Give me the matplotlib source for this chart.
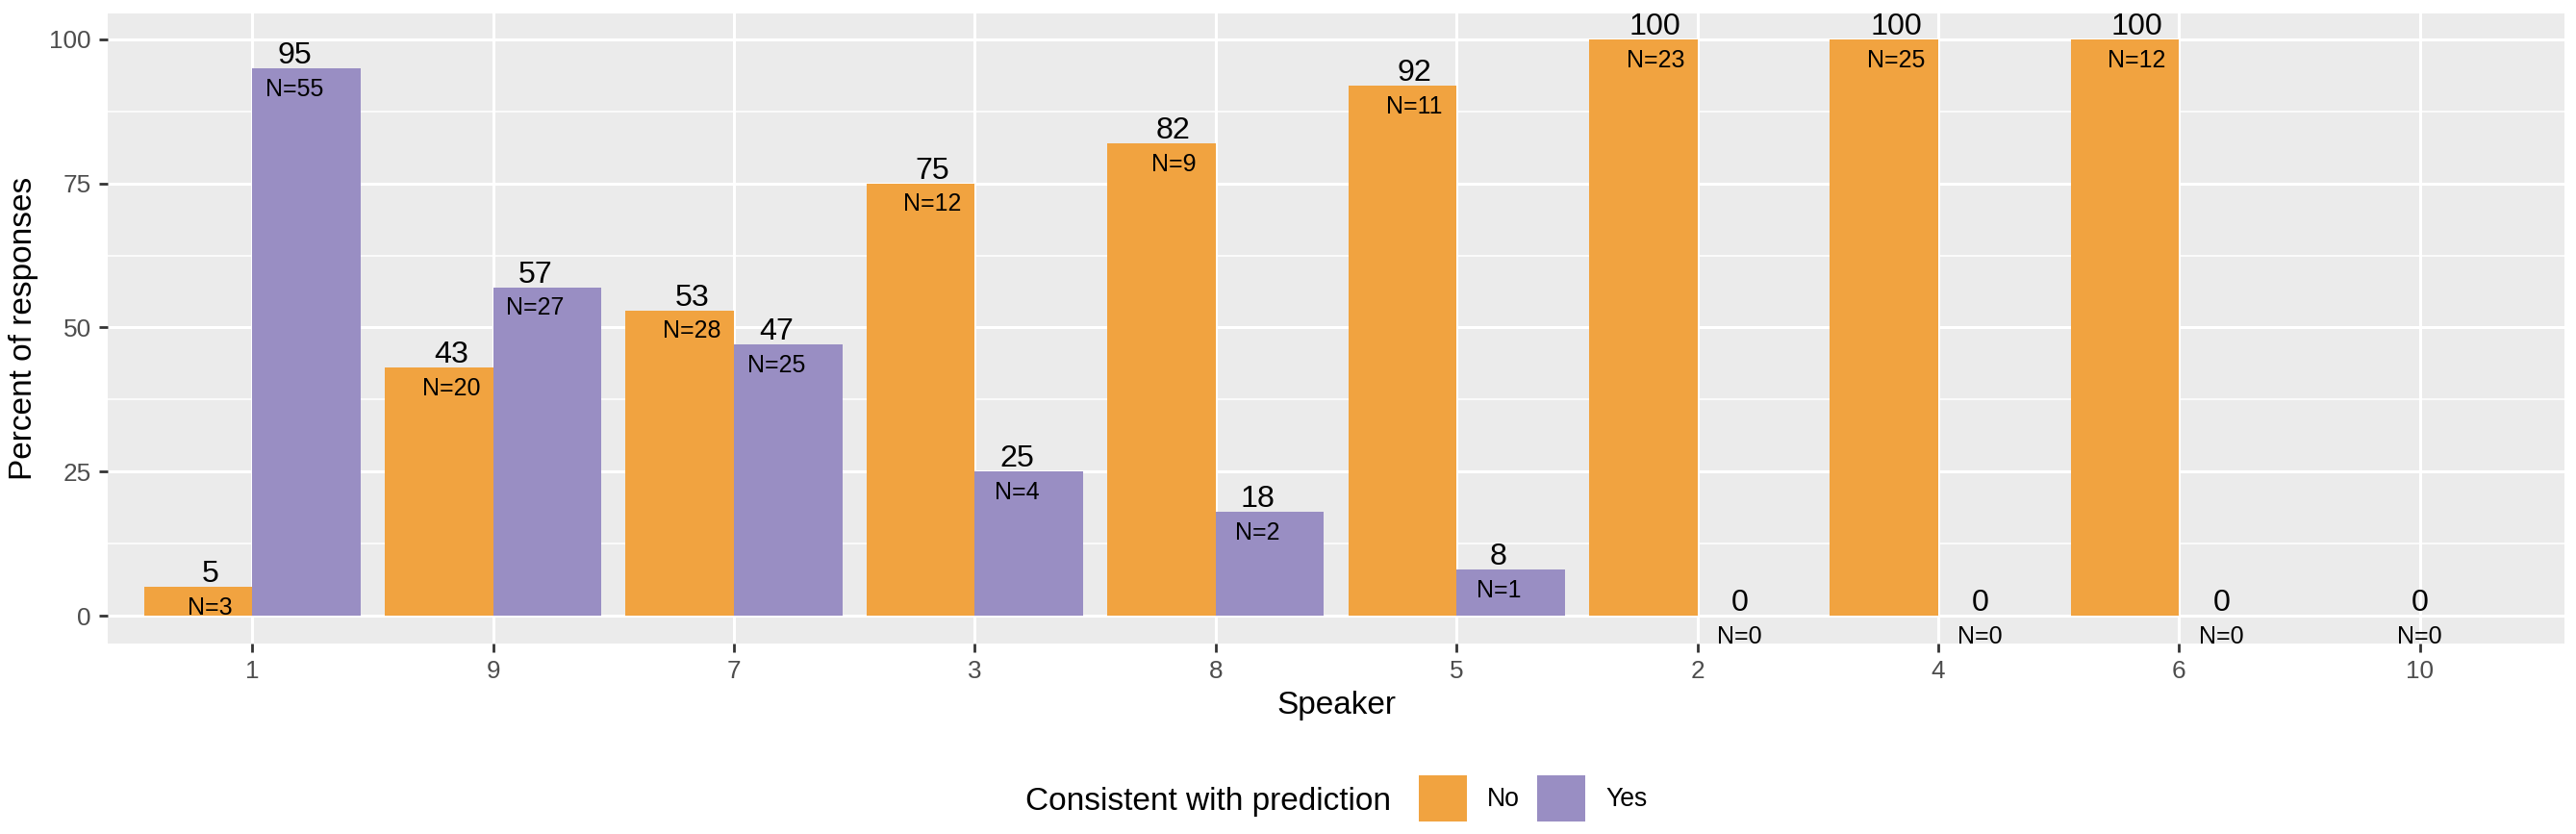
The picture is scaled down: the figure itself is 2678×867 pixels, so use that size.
import numpy as np
import matplotlib
matplotlib.use("Agg")
import matplotlib.pyplot as plt
from matplotlib.patches import Patch

plt.rcParams["font.family"] = ["Liberation Sans", "DejaVu Sans"]

# speakers in plotted order, percent and counts per answer
speakers = ["1", "9", "7", "3", "8", "5", "2", "4", "6", "10"]
no_pct = [5, 43, 53, 75, 82, 92, 100, 100, 100, None]
yes_pct = [95, 57, 47, 25, 18, 8, 0, 0, 0, 0]
no_n = [3, 20, 28, 12, 9, 11, 23, 25, 12, None]
yes_n = [55, 27, 25, 4, 2, 1, 0, 0, 0, 0]

groups = ["No", "Yes"]
colors = {"No": "#F1A340", "Yes": "#998EC3"}

W, H, DPI = 2678, 867, 200
fig = plt.figure(figsize=(W / DPI, H / DPI), dpi=DPI)
ax = fig.add_axes([112 / W, 1 - 669 / H, (2666 - 112) / W, (669 - 14) / H])

ax.set_facecolor("#EBEBEB")
for s in ax.spines.values():
    s.set_visible(False)

x = np.arange(len(speakers))
bar_dodge = 0.9
text_dodge = 0.7

for i in range(len(speakers)):
    present = []
    if no_pct[i] is not None:
        present.append(("No", no_pct[i], no_n[i]))
    if yes_pct[i] is not None:
        present.append(("Yes", yes_pct[i], yes_n[i]))
    k = len(present)
    for j, (g, pct, n) in enumerate(present):
        bw = bar_dodge / k
        xb = x[i] - bar_dodge / 2 + bw * (j + 0.5)
        xt = x[i] - text_dodge / 2 + text_dodge / k * (j + 0.5)
        ax.bar(xb, pct, width=bw, color=colors[g], linewidth=0, zorder=3)
        ax.annotate(str(pct), (xt, pct), xytext=(0, 1.8), textcoords="offset points",
                    ha="center", va="baseline", fontsize=11.6, color="black", zorder=4)
        ax.annotate(f"N={n}", (xt, pct), xytext=(0, -3.5), textcoords="offset points",
                    ha="center", va="top", fontsize=9, color="black", zorder=4)

ax.set_xlim(-0.6, len(speakers) - 0.4)
ax.set_ylim(-4.84, 104.5)
ax.set_xticks(x)
ax.set_xticklabels(speakers)
ax.set_yticks([0, 25, 50, 75, 100])
ax.set_yticks([12.5, 37.5, 62.5, 87.5], minor=True)

ax.grid(which="major", axis="both", color="white", linewidth=1.1, zorder=0)
ax.grid(which="minor", axis="y", color="white", linewidth=0.55, zorder=0)
ax.set_axisbelow(True)

ax.tick_params(axis="both", which="major", length=3.2, width=1.0, color="#333333",
               labelsize=9.4, labelcolor="#4D4D4D", pad=3.0)
ax.tick_params(axis="y", which="minor", length=0)

ax.set_xlabel("Speaker", fontsize=12, color="black")
ax.set_ylabel("Percent of responses", fontsize=12, color="black")
ax.xaxis.set_label_coords(0.5, (669 - 718) / 655)
ax.yaxis.set_label_coords((40 - 112) / 2554, 0.5)

# legend at the bottom, title on the left
fig.text(1066 / W, 1 - 842 / H, "Consistent with prediction", fontsize=12,
         ha="left", va="baseline")
handles = [Patch(facecolor=colors[g], edgecolor="none", label=g) for g in groups]
fig.legend(handles=handles, loc="center left", bbox_to_anchor=(1475 / W, 1 - 830 / H),
           ncol=2, frameon=False, fontsize=9.6, handlelength=1.875, handleheight=2.4,
           handletextpad=0.79, columnspacing=0.68, borderpad=0, borderaxespad=0)

fig.savefig("out.png", dpi=DPI)
